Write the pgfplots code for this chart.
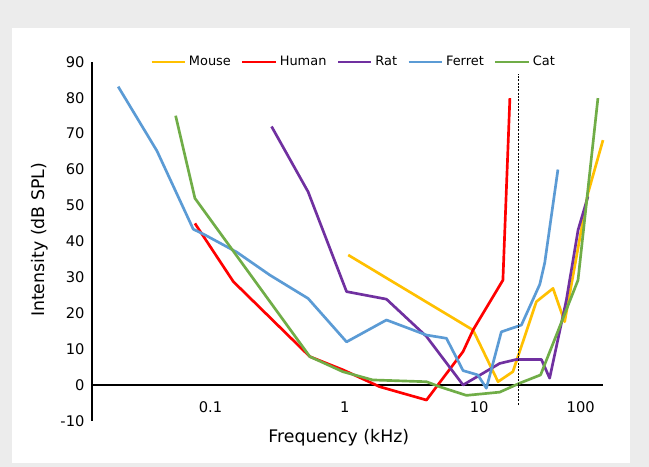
\documentclass[border=0pt]{standalone}
\usepackage{fontspec}
\setmainfont{DejaVu Sans}
\usepackage{pgfplots}
\pgfplotsset{compat=1.18}
\definecolor{mouse}{HTML}{FFC000}
\definecolor{human}{HTML}{FF0000}
\definecolor{rat}{HTML}{7030A0}
\definecolor{ferret}{HTML}{5B9BD5}
\definecolor{cat}{HTML}{70AD47}
\definecolor{bggray}{HTML}{ECECEC}

\begin{document}
\begin{tikzpicture}
% page background and white panel (1px = 0.75pt)
\fill[bggray] (0,0) rectangle (486.75pt,350.25pt);
\fill[white] (9pt,3pt) rectangle (472.5pt,329.25pt);
\begin{axis}[
    at={(69pt,34.6pt)}, anchor=south west,
    scale only axis, width=383.25pt, height=269.25pt,
    xmode=log, xmin=0.01315, xmax=83.3,
    ymin=-10, ymax=90,
    axis x line=middle, axis y line=left,
    axis line style={-, line width=1.4pt},
    tick style={draw=none},
    xtick={0.1,1,10,56.9},
    xticklabels={0.1,1,10,100},
    ytick={-10,0,10,20,30,40,50,60,70,80,90},
    yticklabels={-10,0,10,20,30,40,50,60,70,80,90},
    xticklabel style={font=\fontsize{11}{13}\selectfont, yshift=-7pt},
    yticklabel style={font=\fontsize{11}{13}\selectfont},
    xlabel={Frequency (kHz)},
    ylabel={Intensity (dB SPL)},
    xlabel style={at={(axis description cs:0.483,0)}, anchor=center, yshift=-12.75pt, font=\fontsize{13}{15}\selectfont},
    ylabel style={at={(axis description cs:-0.1018,0.504)}, anchor=center, font=\fontsize{13}{15}\selectfont},
    clip=false,
    legend columns=-1,
    legend image code/.code={\draw[#1] (0pt,0pt) -- (25pt,0pt);},
    legend style={draw=none, fill=none, inner sep=0pt,
        at={(axis description cs:0.1135,1)}, anchor=west,
        font=\fontsize{9.7}{11}\selectfont,
        /tikz/every even column/.append style={column sep=5.7pt}},
    every axis plot/.append style={line width=2pt, line join=round},
]
\addplot[color=mouse] coordinates {
    (1.06,36.2)(8.99,15.3)(13.8,0.9)(17.8,3.7)(26.6,23.2)
    (35.4,26.9)(43.2,17.6)(64.4,53.4)(83.3,68.2)};
\addlegendentry{Mouse}
\addplot[color=human] coordinates {
    (0.0767,45)(0.148,28.8)(0.549,7.9)(0.971,4.2)(1.82,-0.5)
    (4.05,-4.2)(7.58,9.3)(8.99,15.3)(15.0,29.2)(16.9,79.9)};
\addlegendentry{Human}
\addplot[color=rat] coordinates {
    (0.285,72)(0.533,53.8)(1.03,26)(2.04,23.9)(4.05,13.5)(7.58,0)
    (14.2,6)(18.9,7.1)(29.0,7.1)(33.4,1.9)(44.5,23.7)(54.4,43.2)(64.4,52.5)};
\addlegendentry{Rat}
\addplot[color=ferret] coordinates {
    (0.0206,83.1)(0.040,65.2)(0.0745,43.4)(0.091,41.8)(0.157,37)
    (0.277,30.6)(0.533,24.1)(1.03,12)(2.04,18.1)(4.05,13.9)(5.70,13)
    (7.58,4)(9.75,2.8)(11.3,-0.9)(14.6,14.8)(20.6,16.7)(28.2,28)
    (30.7,34)(38.5,60)};
\addlegendentry{Ferret}
\addplot[color=cat] coordinates {
    (0.0551,75)(0.0767,52)(0.549,7.9)(0.966,3.7)(1.61,1.4)(4.05,0.9)
    (5.08,-0.5)(8.03,-2.9)(14.2,-2)(20,0.5)(28.6,2.8)(37.5,13.9)
    (54.3,29.2)(76.4,79.9)};
\addlegendentry{Cat}
% 20 kHz marker
\addplot[forget plot, black, line width=0.9pt, dash pattern=on 1.5pt off 1pt]
    coordinates {(19.5,-5.5)(19.5,86.7)};
\end{axis}
\end{tikzpicture}
\end{document}
